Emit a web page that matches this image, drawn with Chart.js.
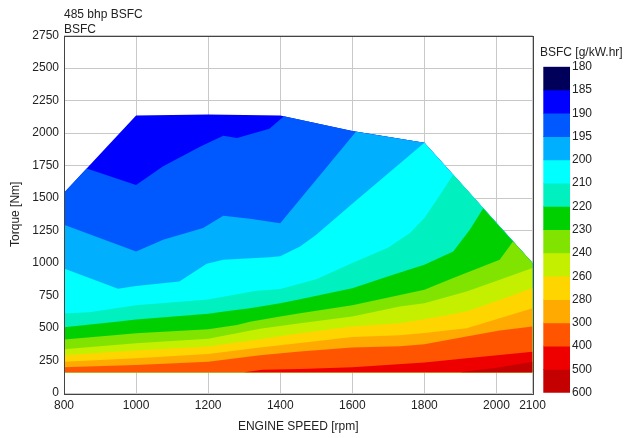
<!DOCTYPE html>
<html>
<head>
<meta charset="utf-8">
<title>485 bhp BSFC</title>
<script src="https://cdn.jsdelivr.net/npm/chart.js@4.4.1/dist/chart.umd.min.js"></script>
<style>
  body { margin: 0; background: #fff; }
  #wrap { position: relative; width: 636px; height: 438px; font-family: 'Liberation Sans', Arial, sans-serif; font-size: 12px; color: #222; }
  .txt { position: absolute; white-space: nowrap; line-height: 14px; }
  #mapChart { position: absolute; left: 0; top: 0; }
  #barChart { position: absolute; left: 536px; top: 50px; }
</style>
</head>
<body>
<div id="wrap">
  <canvas id="mapChart" width="636" height="438"></canvas>
  <canvas id="barChart" width="100" height="360"></canvas>
  <div class="txt" style="left:64px;top:7px">485 bhp BSFC</div>
  <div class="txt" style="left:64px;top:22px">BSFC</div>
  <div class="txt" style="left:540px;top:45px">BSFC [g/kW.hr]</div>
</div>
<script>
// BSFC levels (g/kW.hr), top of the colour bar first
var levels = ['180', '185', '190', '195', '200', '210', '220', '230', '240', '260', '280', '300', '400', '500', '600'];
// one colour per band between two levels
var bandColors = ['#00005a', '#0000ff', '#0058ff', '#00b0ff', '#00ffff', '#00f0c0', '#00d000',
                  '#80e400', '#c4f000', '#ffd500', '#ffaa00', '#ff5500', '#ee0000', '#c40000'];

var xTicks = [800, 1000, 1200, 1400, 1600, 1800, 2000, 2100];
var floorTorque = 160;

// [rpm, torque] lines; everything below a line has BSFC above its level
var envelope = [[800, 1540], [1000, 2135], [1200, 2142], [1400, 2135], [1600, 2015], [1800, 1925], [2100, 1000]];
var c190 = [[800, 1540], [863, 1727], [1000, 1600], [1075, 1745], [1180, 1898], [1242, 1978], [1280, 1962],
            [1370, 2032], [1410, 2129], [1600, 2015], [1800, 1925], [2100, 1000]];
var c195 = [[800, 1294], [1000, 1089], [1075, 1179], [1186, 1269], [1242, 1364], [1316, 1340], [1400, 1305],
            [1610, 2010], [1800, 1925], [2100, 1000]];
var c200 = [[800, 958], [950, 801], [1000, 824], [1120, 858], [1196, 994], [1242, 1025], [1371, 1045], [1400, 1052],
            [1455, 1127], [1500, 1217], [1600, 1455], [1700, 1690], [1800, 1925], [2100, 1000]];
var c210 = [[800, 612], [870, 622], [1000, 675], [1200, 720], [1330, 785], [1400, 800], [1500, 875], [1600, 1000],
            [1700, 1120], [1760, 1230], [1800, 1346], [1840, 1510], [1880, 1680], [2100, 1000]];
var c220 = [[800, 506], [946, 549], [1000, 565], [1200, 609], [1250, 628], [1316, 652], [1400, 691], [1455, 722],
            [1600, 805], [1713, 909], [1800, 986], [1880, 1089], [1926, 1256], [1963, 1420], [2100, 1000]];
var c230 = [[800, 412], [946, 447], [1000, 460], [1200, 490], [1280, 524], [1316, 549], [1400, 588], [1455, 614],
            [1600, 675], [1713, 742], [1800, 795], [1880, 884], [2009, 1025], [2046, 1166], [2100, 1000]];
var c240 = [[800, 337], [1000, 383], [1200, 418], [1344, 495], [1455, 537], [1600, 588], [1732, 665], [1800, 691],
            [1917, 780], [2009, 871], [2100, 961]];
var c260 = [[800, 290], [1000, 326], [1200, 357], [1344, 414], [1455, 460], [1600, 511], [1732, 537], [1800, 568],
            [1917, 626], [2009, 716], [2100, 807]];
var c280 = [[800, 241], [1000, 267], [1200, 300], [1344, 350], [1455, 385], [1600, 430], [1732, 445], [1800, 462],
            [1917, 498], [2009, 575], [2100, 652]];
var c300 = [[800, 198], [1000, 216], [1200, 241], [1344, 290], [1455, 320], [1600, 350], [1732, 360], [1800, 375],
            [1917, 434], [2009, 480], [2100, 511]];
var c400 = [[1300, 160], [1350, 178], [1455, 185], [1600, 198], [1800, 235], [1917, 267], [2009, 293], [2100, 318]];
var c500 = [[1900, 160], [2000, 195], [2100, 240]];

var contours = [envelope, c190, c195, c200, c210, c220, c230, c240, c260, c280, c300, c400, c500];

// close a line down to the floor so it can be filled as a shape
function toPolygon(line) {
    var pts = line.map(function (p) { return { x: p[0], y: p[1] }; });
    pts.push({ x: line[line.length - 1][0], y: floorTorque });
    pts.push({ x: line[0][0], y: floorTorque });
    return pts;
}

// plain numbers, no thousands separator
function plain(v) { return String(v); }

var font = { family: "'Liberation Sans', Arial, sans-serif", size: 12 };
Chart.defaults.color = '#222';

// dark frame round the plot area
var framePlugin = {
    id: 'frame',
    afterDraw: function (chart) {
        var ctx = chart.ctx, a = chart.chartArea;
        ctx.save();
        ctx.strokeStyle = '#444';
        ctx.lineWidth = 1;
        ctx.strokeRect(Math.round(a.left) + 0.5, Math.round(a.top) + 0.5,
                       Math.round(a.right - a.left), Math.round(a.bottom - a.top));
        ctx.restore();
    }
};

new Chart(document.getElementById('mapChart'), {
    type: 'line',
    data: {
        datasets: contours.map(function (line, i) {
            return {
                data: toPolygon(line),
                backgroundColor: bandColors[i + 1],
                borderWidth: 0,
                pointRadius: 0,
                tension: 0,
                fill: 'shape',
                order: contours.length - i,
            };
        }),
    },
    options: {
        responsive: false,
        animation: false,
        events: [],
        layout: { padding: { top: 35.5, right: 103.5, bottom: 0, left: 0 } },
        plugins: { legend: { display: false }, tooltip: { enabled: false } },
        scales: {
            x: {
                type: 'linear',
                min: 800,
                max: 2100,
                z: 1,
                afterBuildTicks: function (scale) {
                    scale.ticks = xTicks.map(function (v) { return { value: v }; });
                },
                afterFit: function (scale) { scale.height = 45; },
                ticks: { autoSkip: false, maxRotation: 0, padding: 5, font: font, callback: plain },
                grid: { color: '#c8c8c8', drawTicks: false },
                border: { display: false },
                title: { display: true, text: 'ENGINE SPEED [rpm]', font: font, padding: { top: 0, bottom: 4 } },
            },
            y: {
                min: 0,
                max: 2750,
                z: 1,
                afterFit: function (scale) { scale.width = 64; },
                ticks: { stepSize: 250, padding: 5, font: font, callback: plain },
                grid: { color: '#c8c8c8', drawTicks: false },
                border: { display: false },
                title: { display: true, text: 'Torque [Nm]', font: font, padding: { top: 8, bottom: 0 } },
            },
        },
    },
    plugins: [framePlugin],
});

// colour bar legend, one stacked block per band
new Chart(document.getElementById('barChart'), {
    type: 'bar',
    data: {
        labels: [''],
        datasets: bandColors.map(function (c) {
            return { data: [1], backgroundColor: c, borderWidth: 0, barPercentage: 1, categoryPercentage: 1 };
        }),
    },
    options: {
        responsive: false,
        animation: false,
        events: [],
        layout: { padding: { top: 16.7, right: 0, bottom: 17.3, left: 7.3 } },
        plugins: { legend: { display: false }, tooltip: { enabled: false } },
        scales: {
            x: { stacked: true, display: false },
            y: {
                stacked: true,
                position: 'right',
                reverse: true,
                min: 0,
                max: 14,
                afterFit: function (scale) { scale.width = 66; },
                ticks: {
                    stepSize: 1,
                    padding: 2,
                    font: font,
                    callback: function (v) { return levels[v]; },
                },
                grid: { display: false, drawTicks: false },
                border: { display: false },
            },
        },
    },
});
</script>
</body>
</html>
